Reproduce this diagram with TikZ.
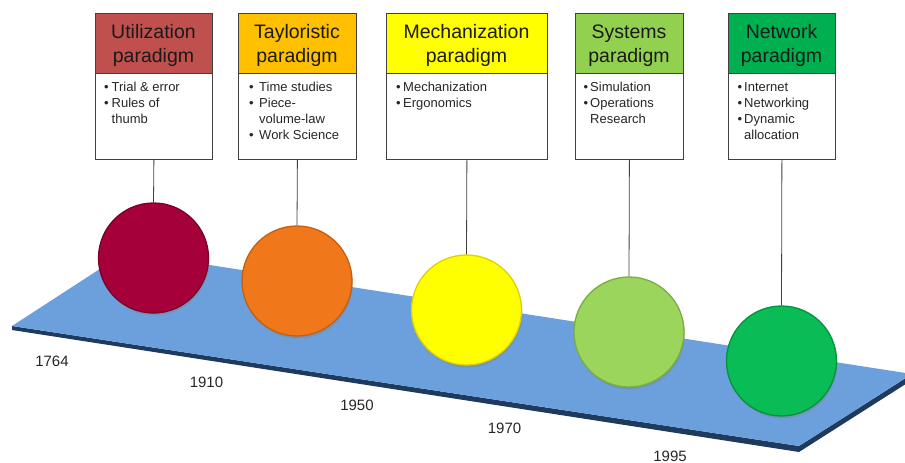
\documentclass[tikz,border=0pt]{standalone}
\usepackage{fontspec}
\setmainfont{Liberation Sans}
\usetikzlibrary{shadows}
\definecolor{framegray}{HTML}{404040}
\definecolor{txtdark}{HTML}{1A1A1A}
\definecolor{txtgray}{HTML}{262626}
\definecolor{planeblue}{HTML}{6CA0DC}
\definecolor{planedark}{HTML}{1F3A5F}
\definecolor{hdred}{HTML}{C0504D}
\definecolor{hdorange}{HTML}{FFC000}
\definecolor{hdyellow}{HTML}{FFFF00}
\definecolor{hdlgreen}{HTML}{92D050}
\definecolor{hdgreen}{HTML}{00B050}
\definecolor{balred}{HTML}{A6003A}
\definecolor{balredd}{HTML}{7A0029}
\definecolor{balorange}{HTML}{F0781A}
\definecolor{balorangd}{HTML}{C45F10}
\definecolor{balyellow}{HTML}{FFFF00}
\definecolor{balyellowd}{HTML}{E0D000}
\definecolor{ballgreen}{HTML}{9BD55B}
\definecolor{ballgreend}{HTML}{78AE40}
\definecolor{balgreen}{HTML}{0ABC55}
\definecolor{balgreend}{HTML}{06903F}
\newcommand\bitm[2]{\makebox[#1][l]{\textbullet}#2}
\begin{document}
\begin{tikzpicture}[x=1pt,y=-1pt,
  boxframe/.style={draw=framegray, line width=0.8pt, fill=white, rectangle, inner sep=0pt, anchor=north west, minimum height=146pt},
  headbox/.style={draw=framegray, line width=0.8pt, rectangle, inner sep=0pt, anchor=north west, minimum height=60pt},
  headtxt/.style={font=\fontsize{19.5}{24.5}\selectfont, text=txtdark, align=center, inner sep=0pt},
  bodytxt/.style={font=\fontsize{13}{16}\selectfont, text=txtgray, align=left, inner sep=0pt, anchor=north west},
  ball/.style={circle, minimum size=110pt, inner sep=0pt, line width=1.3pt, drop shadow={shadow xshift=1pt, shadow yshift=-2.5pt, opacity=0.35}},
  stem/.style={draw=framegray, line width=0.8pt},
  yeartxt/.style={font=\fontsize{15}{18}\selectfont, text=txtgray, inner sep=0pt}
]
\useasboundingbox (0,0) rectangle (905,463);
\clip (0,0) rectangle (905,463);

% plane
\fill[planedark] (12,326) -- (799,446) -- (912,374) -- (912,380) -- (799,452) -- (12,330) -- cycle;
\fill[planeblue] (12,326) -- (126,252) -- (912,374) -- (799,446) -- cycle;

% boxes
\node[boxframe, minimum width=117pt] (b1) at (95,13) {};
\node[headbox, fill=hdred, minimum width=117pt] (h1) at (95,13) {};
\node[headtxt] (h1t) at (153.5,45.5) {Utilization\\paradigm};
\node[bodytxt] (t1) at (104,82) {\bitm{7.5pt}{Trial \& error}\\\bitm{7.5pt}{Rules of}\\\hspace*{7.5pt}thumb};

\node[boxframe, minimum width=118pt] (b2) at (238,13) {};
\node[headbox, fill=hdorange, minimum width=118pt] (h2) at (238,13) {};
\node[headtxt] (h2t) at (297,45.5) {Tayloristic\\paradigm};
\node[bodytxt] (t2) at (249,82) {\bitm{10pt}{Time studies}\\\bitm{10pt}{Piece-}\\\hspace*{10pt}volume-law\\\bitm{10pt}{Work Science}};

\node[boxframe, minimum width=161pt] (b3) at (386,13) {};
\node[headbox, fill=hdyellow, minimum width=161pt] (h3) at (386,13) {};
\node[headtxt] (h3t) at (466.5,45.5) {Mechanization\\paradigm};
\node[bodytxt] (t3) at (396,82) {\bitm{7pt}{Mechanization}\\\bitm{7pt}{Ergonomics}};

\node[boxframe, minimum width=108pt] (b4) at (575,13) {};
\node[headbox, fill=hdlgreen, minimum width=108pt] (h4) at (575,13) {};
\node[headtxt] (h4t) at (629,45.5) {Systems\\paradigm};
\node[bodytxt] (t4) at (583.5,82) {\bitm{6.5pt}{Simulation}\\\bitm{6.5pt}{Operations}\\\hspace*{6.5pt}Research};

\node[boxframe, minimum width=107pt] (b5) at (728,13) {};
\node[headbox, fill=hdgreen, minimum width=107pt] (h5) at (728,13) {};
\node[headtxt] (h5t) at (781.5,45.5) {Network\\paradigm};
\node[bodytxt] (t5) at (737.5,82) {\bitm{6.5pt}{Internet}\\\bitm{6.5pt}{Networking}\\\bitm{6.5pt}{Dynamic}\\\hspace*{6.5pt}allocation};

% balls
\node[ball, fill=balred, draw=balredd] (c1) at (153.5,258) {};
\node[ball, fill=balorange, draw=balorangd] (c2) at (297,281) {};
\node[ball, fill=balyellow, draw=balyellowd] (c3) at (466.5,310) {};
\node[ball, fill=ballgreen, draw=ballgreend] (c4) at (629,332) {};
\node[ball, fill=balgreen, draw=balgreend] (c5) at (781.5,361) {};

% stems
\draw[stem] (b1.south) -- (c1.north);
\draw[stem] (b2.south) -- (c2.north);
\draw[stem] (b3.south) -- (c3.north);
\draw[stem] (b4.south) -- (c4.north);
\draw[stem] (b5.south) -- (c5.north);

% years
\node[yeartxt] (y1) at (52,361) {1764};
\node[yeartxt] (y2) at (206.5,382.5) {1910};
\node[yeartxt] (y3) at (357,405) {1950};
\node[yeartxt] (y4) at (504.5,428) {1970};
\node[yeartxt] (y5) at (670,456) {1995};
\end{tikzpicture}
\end{document}
